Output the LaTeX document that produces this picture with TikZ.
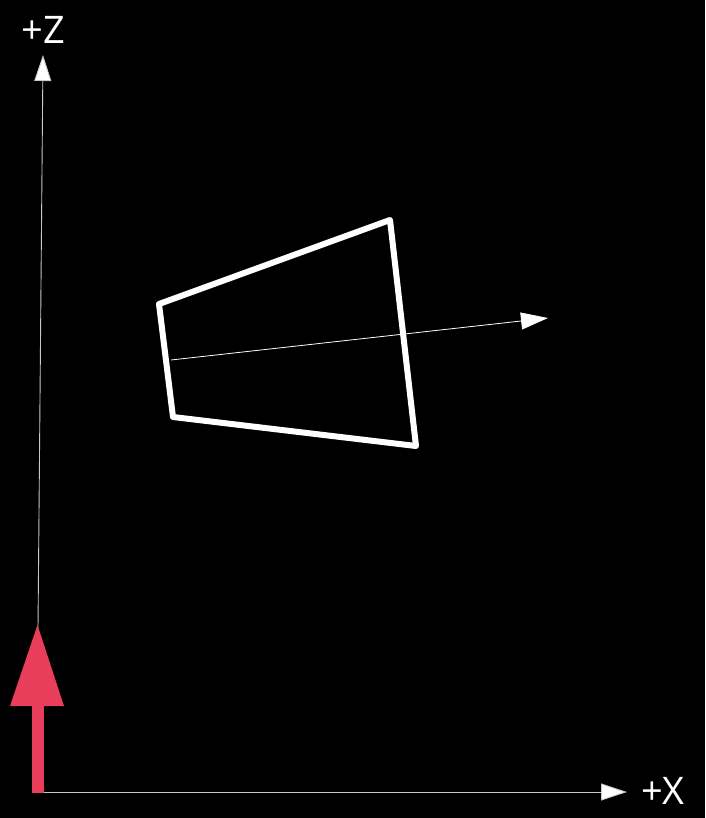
\documentclass[tikz,border=0pt]{standalone}
\usepackage{fontspec}
\setmainfont{Open Sans}
\usetikzlibrary{arrows.meta}
\definecolor{redarrow}{RGB}{232,62,92}
\definecolor{axisgray}{RGB}{200,200,200}
\tikzset{
  axis/.style={draw=axisgray, line width=0.9pt, -{Triangle[length=26pt,width=17pt,fill=white]}},
  normalvec/.style={draw=white, line width=0.8pt, -{Triangle[length=27pt,width=17pt,fill=white]}},
  quad/.style={draw=white, line width=6pt, line join=round},
  lbl/.style={text=white, font=\fontsize{38}{40}\selectfont, inner sep=0pt}
}
\begin{document}
\begin{tikzpicture}[x=1pt,y=-1pt]
  \fill[black] (0,0) rectangle (705,818);
  \useasboundingbox (0,0) rectangle (705,818);
  % axes
  \coordinate (zbase) at (38,628);
  \coordinate (ztip) at (43,55);
  \coordinate (xbase) at (44,792);
  \coordinate (xtip) at (627,792);
  \draw[axis] (zbase) -- (ztip);
  \draw[axis] (xbase) -- (xtip);
  \node[lbl] (zlabel) at (43,30) {+Z};
  \node[lbl, anchor=west] (xlabel) at (641,791) {+X};
  % red arrow
  \fill[redarrow] (32,706) rectangle (44,793);
  \fill[redarrow] (10,706) -- (64,706) -- (37.5,625) -- cycle;
  % quad
  \coordinate (q1) at (159,304);
  \coordinate (q2) at (390,220);
  \coordinate (q3) at (416,446);
  \coordinate (q4) at (173,417);
  \draw[quad] (q1) -- (q2) -- (q3) -- (q4) -- cycle;
  % normal
  \coordinate (nbase) at (171,360);
  \coordinate (ntip) at (548,318);
  \draw[normalvec] (nbase) -- (ntip);
\end{tikzpicture}
\end{document}
